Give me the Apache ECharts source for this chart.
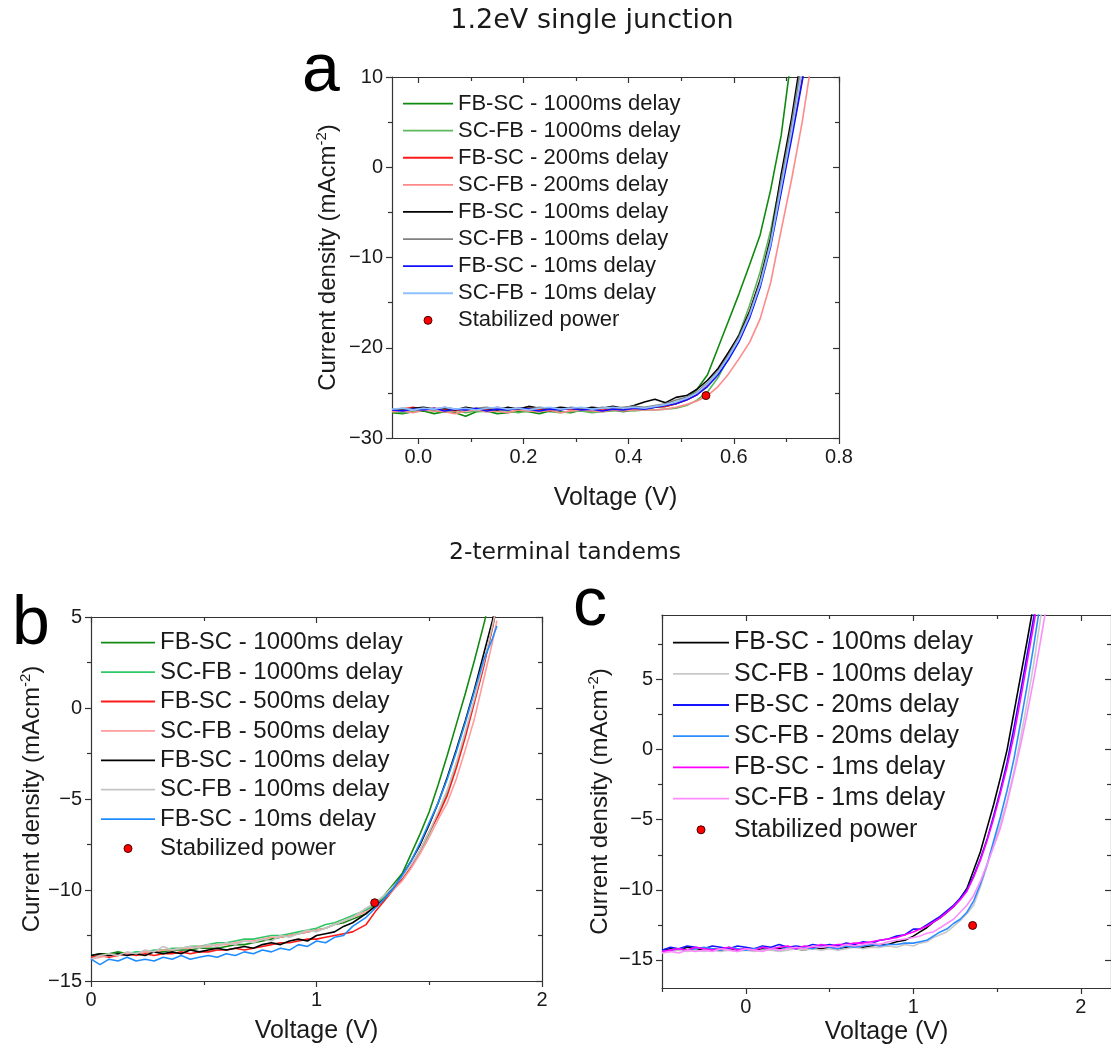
<!DOCTYPE html>
<html>
<head>
<meta charset="utf-8">
<script src="https://cdn.jsdelivr.net/npm/echarts@6/dist/echarts.min.js"></script>
<style>
  html, body { margin: 0; padding: 0; background: #fff; }
  #chart { width: 1111px; height: 1055px; }
</style>
</head>
<body>
<div id="chart"></div>
<script>
// ---------- Panel a: 1.2 eV single junction ----------
const voltageA = [-0.05,-0.03,-0.01,0.01,0.03,0.05,0.07,0.09,0.11,0.13,0.15,0.17,0.19,0.21,0.23,0.25,0.27,0.29,0.31,0.33,0.35,0.37,0.39,0.41,0.43,
  0.45,0.47,0.49,0.51,0.53,0.55,0.57,0.59,0.61,0.63,0.65,0.67,0.69,0.71,0.73,0.75];
const a_fbsc1000 = [-27.2,-27.3,-27.1,-27.0,-27.3,-27.1,-27.2,-27.6,-27.1,-27.0,-27.3,-27.2,-27.0,-27.1,-27.3,-27.0,-27.1,-27.2,-26.9,-27.1,-27.0,-26.9,-27.1,-26.9,-26.8,
  -26.6,-26.5,-26.2,-25.6,-24.6,-23.0,-20.0,-17.0,-14.0,-10.8,-7.5,-2.5,3.5,12.5,21.0,30.0];
const a_scfb1000 = [-27.0,-27.2,-27.1,-26.9,-27.0,-27.1,-26.9,-27.2,-27.0,-27.1,-26.9,-27.0,-27.2,-27.0,-26.9,-27.1,-27.2,-27.1,-27.0,-27.2,-27.1,-27.0,-26.9,-27.0,-26.9,
  -26.9,-26.8,-26.7,-26.4,-25.8,-24.9,-23.3,-21.1,-18.5,-15.3,-11.6,-7.0,-1.2,5.0,12.0,19.0];
const a_fbsc200 = [-26.9,-26.8,-26.6,-26.9,-26.7,-26.8,-27.0,-26.7,-26.8,-26.9,-26.6,-26.8,-26.9,-26.7,-26.8,-27.0,-26.7,-26.9,-26.8,-26.7,-26.9,-26.8,-26.7,-26.8,-26.7,
  -26.6,-26.5,-26.2,-25.8,-25.2,-24.1,-22.6,-20.8,-18.7,-16.0,-12.6,-8.3,-2.4,3.5,9.8,16.5];
const a_scfb200 = [-27.1,-27.0,-27.2,-26.9,-27.0,-27.1,-27.3,-27.0,-26.9,-27.1,-27.0,-27.2,-26.9,-27.0,-27.1,-26.9,-27.2,-27.0,-26.9,-27.0,-27.1,-26.9,-27.0,-26.9,-26.9,
  -26.9,-26.8,-26.6,-26.3,-25.9,-25.3,-24.3,-22.9,-21.2,-19.4,-16.8,-12.8,-7.0,-1.3,5.0,12.5];
const a_fbsc100 = [-26.8,-26.9,-26.7,-26.6,-26.8,-26.7,-26.9,-26.6,-26.8,-26.7,-26.9,-26.6,-26.8,-26.5,-26.7,-26.8,-26.6,-26.7,-26.8,-26.6,-26.7,-26.5,-26.7,-26.4,-26.0,
  -25.7,-26.1,-25.5,-25.3,-24.6,-23.6,-22.3,-20.5,-18.6,-16.0,-12.5,-7.8,-0.8,5.5,13.0,20.0];
const a_scfb100 = [-26.9,-26.7,-26.8,-26.7,-26.9,-26.6,-26.8,-26.9,-26.7,-26.6,-26.8,-26.9,-26.7,-26.8,-26.6,-26.7,-26.9,-26.6,-26.7,-26.8,-26.6,-26.7,-26.6,-26.5,-26.6,
  -26.4,-26.2,-25.8,-25.5,-24.9,-23.9,-22.6,-20.8,-18.8,-16.2,-12.8,-8.2,-1.5,4.8,12.0,19.0];
const a_fbsc10 = [-26.9,-27.0,-26.8,-26.9,-26.7,-27.0,-26.8,-26.9,-26.7,-27.0,-26.8,-26.9,-26.7,-26.8,-27.0,-26.8,-26.9,-26.7,-26.9,-26.8,-27.0,-26.8,-26.9,-26.7,-26.8,
  -26.6,-26.4,-26.2,-25.8,-25.2,-24.3,-23.0,-21.3,-19.3,-16.7,-13.3,-8.8,-2.8,3.2,9.5,16.0];
const a_scfb10 = [-26.8,-26.7,-26.9,-26.7,-26.8,-26.6,-26.8,-26.7,-26.9,-26.7,-26.6,-26.8,-26.7,-26.9,-26.7,-26.6,-26.8,-26.7,-26.6,-26.8,-26.7,-26.6,-26.7,-26.6,-26.7,
  -26.5,-26.3,-26.0,-25.6,-25.0,-24.0,-22.7,-21.0,-19.0,-16.4,-13.0,-8.5,-2.2,4.0,10.8,17.5];
const a_stabilized = [[0.547, -25.3]];

// ---------- Panel b: 2-terminal tandem ----------
const voltageB = [0,0.04,0.08,0.12,0.16,0.20,0.24,0.28,0.32,0.36,0.40,0.44,0.48,0.52,0.56,0.60,0.64,0.68,0.72,0.76,0.80,0.84,0.88,0.92,0.96,1.00,1.04,1.08,1.12,1.16,
  1.22,1.26,1.30,1.34,1.38,1.42,1.46,1.50,1.54,1.58,1.62,1.66,1.70,1.74,1.78,1.80];
const b_fbsc1000 = [-13.6,-13.5,-13.5,-13.4,-13.5,-13.5,-13.4,-13.4,-13.4,-13.3,-13.3,-13.3,-13.2,-13.2,-13.2,-13.1,-13.0,-13.0,-12.9,-12.8,-12.7,-12.6,-12.5,-12.4,-12.3,-12.2,-12.1,-11.9,-11.8,-11.6,
  -11.3,-10.8,-10.3,-9.7,-9.1,-8.0,-6.9,-5.7,-4.2,-2.6,-0.9,0.8,2.6,4.5,6.5,7.5];
const b_scfb1000 = [-13.7,-13.6,-13.6,-13.5,-13.5,-13.4,-13.4,-13.3,-13.3,-13.2,-13.2,-13.1,-13.1,-13.0,-12.9,-12.9,-12.8,-12.7,-12.7,-12.6,-12.5,-12.5,-12.4,-12.3,-12.2,-12.1,-11.9,-11.8,-11.6,-11.4,
  -11.1,-10.8,-10.4,-9.9,-9.4,-8.7,-7.9,-6.9,-5.8,-4.6,-3.1,-1.4,0.4,2.3,4.4,5.6];
const b_fbsc500 = [-13.7,-13.6,-13.7,-13.6,-13.5,-13.6,-13.5,-13.6,-13.5,-13.5,-13.4,-13.5,-13.4,-13.4,-13.3,-13.3,-13.2,-13.3,-13.2,-13.1,-13.0,-12.9,-12.9,-12.8,-12.7,-12.7,-12.6,-12.5,-12.4,-12.3,
  -11.9,-11.2,-10.6,-10.0,-9.4,-8.7,-7.8,-6.8,-5.9,-4.8,-3.3,-1.6,0.3,2.2,4.4,5.6];
const b_scfb500 = [-13.8,-13.7,-13.6,-13.6,-13.5,-13.5,-13.4,-13.4,-13.3,-13.3,-13.2,-13.2,-13.1,-13.1,-13.0,-13.0,-12.9,-12.8,-12.8,-12.7,-12.6,-12.6,-12.5,-12.4,-12.3,-12.2,-12.1,-11.9,-11.7,-11.5,
  -11.2,-10.9,-10.5,-10.0,-9.5,-8.8,-8.0,-7.1,-6.1,-5.2,-3.9,-2.3,-0.6,1.5,3.6,4.8];
const b_fbsc100 = [-13.6,-13.5,-13.6,-13.5,-13.6,-13.5,-13.6,-13.4,-13.5,-13.4,-13.5,-13.3,-13.4,-13.3,-13.2,-13.3,-13.2,-13.1,-13.2,-13.0,-12.9,-13.0,-12.8,-12.7,-12.8,-12.5,-12.4,-12.3,-12.0,-11.8,
  -11.3,-10.9,-10.5,-9.9,-9.2,-8.4,-7.5,-6.4,-5.2,-3.8,-2.3,-0.7,1.0,2.9,4.8,6.0];
const b_scfb100 = [-13.8,-13.6,-13.5,-13.6,-13.4,-13.5,-13.3,-13.4,-13.1,-13.3,-13.2,-13.1,-13.2,-13.0,-13.1,-12.9,-13.0,-12.8,-12.9,-12.7,-12.8,-12.5,-12.6,-12.4,-12.2,-12.3,-12.1,-11.9,-11.7,-11.5,
  -11.0,-10.7,-10.3,-9.8,-9.3,-8.6,-7.8,-6.8,-5.7,-4.5,-3.0,-1.3,0.5,2.4,4.5,5.7];
const b_fbsc10 = [-13.8,-14.1,-13.8,-13.9,-13.7,-13.9,-13.8,-13.9,-13.7,-13.8,-13.6,-13.8,-13.7,-13.6,-13.7,-13.5,-13.6,-13.4,-13.5,-13.3,-13.4,-13.2,-13.3,-13.0,-13.1,-12.8,-12.9,-12.6,-12.5,-12.0,
  -11.5,-11.0,-10.5,-9.9,-9.2,-8.4,-7.4,-6.3,-5.2,-3.9,-2.4,-0.8,0.9,2.6,3.8,4.5];
const b_stabilized = [[1.258, -10.7]];

// ---------- Panel c: 2-terminal tandem ----------
const voltageC = [-0.50,-0.45,-0.40,-0.35,-0.30,-0.25,-0.20,-0.15,-0.10,-0.05,0,0.05,0.10,0.15,0.20,0.25,0.30,0.35,0.40,0.45,0.50,0.55,0.60,0.65,0.70,0.75,0.80,0.85,0.90,0.95,
  1.00,1.04,1.08,1.12,1.16,1.20,1.24,1.28,1.32,1.36,1.40,1.44,1.48,1.52,1.56,1.60,1.64,1.68,1.72,1.76,1.80,1.84];
const c_fbsc100 = [-14.3,-14.2,-14.3,-14.1,-14.2,-14.3,-14.2,-14.3,-14.2,-14.3,-14.2,-14.3,-14.2,-14.3,-14.2,-14.1,-14.2,-14.3,-14.1,-14.2,-14.1,-14.2,-14.1,-14.0,-14.1,-14.0,-13.9,-13.9,-13.7,-13.6,
  -13.3,-13.0,-12.7,-12.3,-12.0,-11.6,-11.2,-10.6,-9.9,-8.6,-7.3,-5.6,-3.9,-2.0,0.0,2.6,5.2,7.8,10.5,13.5,16.5,19.5];
const c_scfb100 = [-14.5,-14.4,-14.3,-14.4,-14.3,-14.4,-14.3,-14.4,-14.3,-14.4,-14.3,-14.4,-14.3,-14.3,-14.4,-14.3,-14.2,-14.3,-14.2,-14.3,-14.2,-14.3,-14.2,-14.1,-14.2,-14.1,-14.1,-14.0,-14.1,-13.9,
  -14.0,-13.8,-13.7,-13.4,-13.2,-13.0,-12.6,-12.2,-11.7,-11.1,-9.8,-8.3,-6.7,-5.3,-3.6,-1.6,0.8,3.4,6.2,9.4,12.6,15.8];
const c_fbsc20 = [-14.3,-14.1,-14.2,-14.0,-14.1,-14.2,-14.0,-14.1,-14.2,-14.0,-14.1,-14.2,-14.0,-14.1,-13.9,-14.1,-14.0,-14.1,-13.9,-14.0,-13.9,-14.0,-13.8,-13.9,-13.7,-13.8,-13.6,-13.5,-13.3,-13.2,
  -12.8,-12.8,-12.5,-12.2,-11.9,-11.5,-11.1,-10.6,-10.0,-9.0,-7.8,-6.4,-4.7,-2.9,-0.9,1.5,4.1,6.8,9.5,12.4,15.3,18.2];
const c_scfb20 = [-14.4,-14.3,-14.2,-14.3,-14.2,-14.1,-14.2,-14.3,-14.1,-14.2,-14.3,-14.2,-14.1,-14.2,-14.3,-14.1,-14.2,-14.1,-14.2,-14.0,-14.1,-14.2,-14.0,-14.1,-14.0,-13.9,-14.0,-13.9,-13.9,-13.8,
  -13.8,-13.7,-13.6,-13.3,-13.0,-12.8,-12.4,-12.1,-11.6,-10.8,-9.6,-8.2,-6.5,-4.8,-2.9,-0.7,1.9,4.6,7.5,10.6,13.7,16.8];
const c_fbsc1 = [-14.4,-14.3,-14.2,-14.3,-14.1,-14.2,-14.3,-14.2,-14.1,-14.3,-14.2,-14.3,-14.1,-14.2,-14.1,-14.0,-14.2,-14.0,-14.1,-13.9,-14.0,-13.9,-13.9,-13.8,-13.8,-13.7,-13.6,-13.5,-13.4,-13.2,
  -13.0,-12.8,-12.6,-12.3,-12.0,-11.6,-11.2,-10.7,-10.1,-9.1,-7.9,-6.5,-4.9,-3.1,-1.2,1.0,3.6,6.3,9.0,11.9,14.8,17.7];
const c_scfb1 = [-14.5,-14.4,-14.5,-14.3,-14.4,-14.3,-14.4,-14.2,-14.3,-14.4,-14.2,-14.3,-14.4,-14.2,-14.3,-14.2,-14.1,-14.2,-14.0,-14.1,-14.0,-14.1,-13.9,-14.0,-13.9,-13.8,-13.9,-13.7,-13.6,-13.5,
  -13.4,-13.3,-13.1,-13.0,-12.7,-12.4,-12.1,-11.6,-11.1,-10.4,-9.4,-8.2,-6.9,-5.6,-3.8,-1.8,0.3,2.6,5.1,7.8,10.6,13.5];
const c_stabilized = [[1.354, -12.54]];

// Axis tick positions
const ticksA = { xMajor: [0, 0.2, 0.4, 0.6, 0.8], xMinor: [0.1, 0.3, 0.5, 0.7], yMajor: [-30, -20, -10, 0, 10], yMinor: [-25, -15, -5, 5] };
const ticksB = { xMajor: [0, 1, 2], xMinor: [0.5, 1.5], yMajor: [-15, -10, -5, 0, 5], yMinor: [-12.5, -7.5, -2.5, 2.5] };
const ticksC = { xMajor: [0, 1, 2], xMinor: [-0.5, 0.5, 1.5], yMajor: [-15, -10, -5, 0, 5], yMinor: [-12.5, -7.5, -2.5, 2.5, 7.5] };

const FONT = '"Liberation Sans", Arial, sans-serif';
const INK = '#1a1a1a';
const AXIS = '#333333';
const LW = 1.6;

const pts = (v, j) => v.map((x, i) => [x, j[i]]);
const signed = v => String(v).replace('-', '\u2212');

const xAxes = [];
const yAxes = [];

// Builds a boxed frame: labelled bottom/left axes with outward ticks,
// plain top/right axes with inward ticks, plus minor tick rows.
function frame(gridIndex, xs, ys) {
  const ls = { color: AXIS, width: 1.2 };
  const bare = (min, max, extra) => Object.assign({
    gridIndex, type: 'value', min, max,
    splitLine: { show: false },
    axisLine: { show: false, onZero: false },
    axisTick: { show: false },
    axisLabel: { show: false }
  }, extra);
  const xi = xAxes.length;
  const yi = yAxes.length;
  xAxes.push(bare(xs.min, xs.max, {
    position: 'bottom',
    axisLine: { show: true, onZero: false, lineStyle: ls },
    axisTick: { show: true, length: 6, customValues: xs.major, lineStyle: ls },
    axisLabel: { show: true, customValues: xs.major, formatter: xs.fmt, fontSize: 20, fontFamily: FONT, color: INK, margin: 9 },
    name: 'Voltage (V)', nameLocation: 'middle', nameGap: xs.nameGap,
    nameTextStyle: { fontSize: 25, fontFamily: FONT, color: INK }
  }));
  xAxes.push(bare(xs.min, xs.max, { position: 'bottom', axisTick: { show: true, length: 4, customValues: xs.minor, lineStyle: ls } }));
  xAxes.push(bare(xs.min, xs.max, { position: 'top', axisLine: { show: true, onZero: false, lineStyle: ls },
    axisTick: { show: true, inside: true, length: 6, customValues: xs.major, lineStyle: ls } }));
  xAxes.push(bare(xs.min, xs.max, { position: 'top', axisTick: { show: true, inside: true, length: 4, customValues: xs.minor, lineStyle: ls } }));

  yAxes.push(bare(ys.min, ys.max, {
    position: 'left',
    axisLine: { show: true, onZero: false, lineStyle: ls },
    axisTick: { show: true, length: 6, customValues: ys.major, lineStyle: ls },
    axisLabel: { show: true, customValues: ys.major, formatter: signed, fontSize: 20, fontFamily: FONT, color: INK, margin: 9 },
    name: '{t|Current density (mAcm}{s|-2}{t|)}', nameLocation: 'middle', nameGap: ys.nameGap,
    nameTextStyle: {
      rich: {
        t: { fontSize: 24, fontFamily: FONT, color: INK, lineHeight: 28 },
        s: { fontSize: 15, fontFamily: FONT, color: INK, lineHeight: 28, verticalAlign: 'top' }
      }
    }
  }));
  yAxes.push(bare(ys.min, ys.max, { position: 'left', axisTick: { show: true, length: 4, customValues: ys.minor, lineStyle: ls } }));
  yAxes.push(bare(ys.min, ys.max, { position: 'right', axisLine: { show: true, onZero: false, lineStyle: ls },
    axisTick: { show: true, inside: true, length: 6, customValues: ys.major, lineStyle: ls } }));
  yAxes.push(bare(ys.min, ys.max, { position: 'right', axisTick: { show: true, inside: true, length: 4, customValues: ys.minor, lineStyle: ls } }));
  return { xi, yi };
}

const fa = frame(0,
  { min: -0.05, max: 0.8, major: ticksA.xMajor, minor: ticksA.xMinor, fmt: v => v.toFixed(1), nameGap: 48 },
  { min: -30, max: 10, major: ticksA.yMajor, minor: ticksA.yMinor, nameGap: 50 });
const fb = frame(1,
  { min: 0, max: 2, major: ticksB.xMajor, minor: ticksB.xMinor, fmt: v => String(v), nameGap: 38 },
  { min: -15, max: 5, major: ticksB.yMajor, minor: ticksB.yMinor, nameGap: 42 });
const fc = frame(2,
  { min: -0.5, max: 2.18, major: ticksC.xMajor, minor: ticksC.xMinor, fmt: v => String(v), nameGap: 32 },
  { min: -17, max: 9.6, major: ticksC.yMajor, minor: ticksC.yMinor, nameGap: 48 });

function curve(f, name, color, v, j) {
  return {
    type: 'line', name, xAxisIndex: f.xi, yAxisIndex: f.yi,
    data: pts(v, j), symbol: 'none', showSymbol: false, clip: true,
    lineStyle: { color, width: LW }, itemStyle: { color }, z: 2
  };
}
function dot(f, data) {
  return {
    type: 'scatter', name: 'Stabilized power', xAxisIndex: f.xi, yAxisIndex: f.yi,
    data, symbol: 'circle', symbolSize: 8, z: 5,
    itemStyle: { color: '#ff0000', borderColor: '#4a0000', borderWidth: 1, opacity: 1 }
  };
}

const colA = ['#0f8a0f', '#5cb85c', '#ff1a1a', '#ff8a8a', '#000000', '#808080', '#1010ff', '#8ec0ff'];
const colB = ['#138a13', '#2ec866', '#ff1a1a', '#ff9c9c', '#000000', '#c4c4c4', '#1e8cff'];
const colC = ['#000000', '#c8c8c8', '#1414ff', '#2a8cff', '#ff00ff', '#ff8cff'];

const namesA = ['FB-SC - 1000ms delay', 'SC-FB - 1000ms delay', 'FB-SC - 200ms delay', 'SC-FB - 200ms delay',
  'FB-SC - 100ms delay', 'SC-FB - 100ms delay', 'FB-SC - 10ms delay', 'SC-FB - 10ms delay'];
const namesB = ['FB-SC - 1000ms delay', 'SC-FB - 1000ms delay', 'FB-SC - 500ms delay', 'SC-FB - 500ms delay',
  'FB-SC - 100ms delay', 'SC-FB - 100ms delay', 'FB-SC - 10ms delay'];
const namesC = ['FB-SC - 100ms delay', 'SC-FB - 100ms delay', 'FB-SC - 20ms delay', 'SC-FB - 20ms delay',
  'FB-SC - 1ms delay', 'SC-FB - 1ms delay'];

const seriesA = [a_fbsc1000, a_scfb1000, a_fbsc200, a_scfb200, a_fbsc100, a_scfb100, a_fbsc10, a_scfb10];
const seriesB = [b_fbsc1000, b_scfb1000, b_fbsc500, b_scfb500, b_fbsc100, b_scfb100, b_fbsc10];
const seriesC = [c_fbsc100, c_scfb100, c_fbsc20, c_scfb20, c_fbsc1, c_scfb1];

const series = [];
seriesA.forEach((j, i) => series.push(curve(fa, namesA[i], colA[i], voltageA, j)));
series.push(dot(fa, a_stabilized));
seriesB.forEach((j, i) => series.push(curve(fb, namesB[i], colB[i], voltageB, j)));
series.push(dot(fb, b_stabilized));
seriesC.forEach((j, i) => series.push(curve(fc, namesC[i], colC[i], voltageC, j)));
series.push(dot(fc, c_stabilized));

// Legend keys: a thin horizontal bar for each sweep, a red dot for the stabilized point
function legendData(names, cols, w) {
  const bar = 'path://M0,0H' + w + 'V1.8H0Z';
  const d = names.map((n, i) => ({ name: n, icon: bar, itemStyle: { color: cols[i], borderWidth: 0 } }));
  d.push({ name: 'Stabilized power', icon: 'circle', itemStyle: { color: '#ff0000', borderColor: '#4a0000', borderWidth: 1 } });
  return d;
}
function legend(left, top, w, size, lh, names, cols) {
  return {
    orient: 'vertical', left, top, padding: 0, itemGap: 0,
    itemWidth: w, itemHeight: 8, selectedMode: false, symbolKeepAspect: true,
    textStyle: { fontSize: size, lineHeight: lh, fontFamily: FONT, color: INK },
    data: legendData(names, cols, w)
  };
}

const chart = echarts.init(document.getElementById('chart'), null, { renderer: 'canvas' });
chart.setOption({
  animation: false,
  backgroundColor: '#ffffff',
  grid: [
    { left: 392, top: 77, width: 447, height: 361 },
    { left: 91, top: 617, width: 451, height: 364 },
    { left: 662, top: 615, width: 449, height: 373 }
  ],
  xAxis: xAxes,
  yAxis: yAxes,
  legend: [
    legend(403, 90, 50, 22, 27.1, namesA, colA),
    legend(101, 628, 54, 24, 29.4, namesB, colB),
    legend(673, 627, 56, 25, 31.2, namesC, colC)
  ],
  graphic: [
    { type: 'text', x: 592, y: 21, style: { text: '1.2eV single junction', font: '27px "DejaVu Sans", sans-serif', fill: INK, align: 'center', verticalAlign: 'middle' } },
    { type: 'text', x: 565, y: 553, style: { text: '2-terminal tandems', font: '23.5px "DejaVu Sans", sans-serif', fill: INK, align: 'center', verticalAlign: 'middle' } },
    { type: 'text', x: 321, y: 72, style: { text: 'a', font: '68px "Liberation Sans", Arial, sans-serif', fill: '#000', align: 'center', verticalAlign: 'middle' } },
    { type: 'text', x: 31, y: 625, style: { text: 'b', font: '68px "Liberation Sans", Arial, sans-serif', fill: '#000', align: 'center', verticalAlign: 'middle' } },
    { type: 'text', x: 590, y: 606, style: { text: 'c', font: '68px "Liberation Sans", Arial, sans-serif', fill: '#000', align: 'center', verticalAlign: 'middle' } }
  ],
  series
});
</script>
</body>
</html>
